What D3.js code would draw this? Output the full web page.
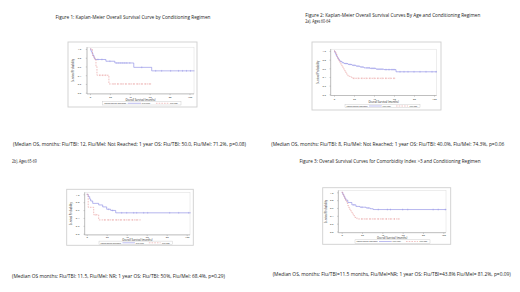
<!DOCTYPE html>
<html><head><meta charset="utf-8">
<script src="https://cdn.jsdelivr.net/npm/d3@7"></script>
<style>
body{margin:0;background:#fff}
svg{display:block}
text{font-family:"Open Sans","Liberation Sans",sans-serif;fill:#222}
</style>
</head><body>
<svg id="chart" width="520" height="292"></svg>
<script>
// ---------- data ----------
const xTicks = [0, 20, 40, 60, 80, 100];
const yTicks = [0, 0.2, 0.4, 0.6, 0.8, 1.0];
const seriesNames = ["Flu/Mel", "Flu/TBI"];
const legendTitle = "Conditioning Regimen";
const xAxisTitle = "Overall Survival (months)";
const yAxisTitle = "Survival Probability";

const titles = [
  ["Figure 1: Kaplan-Meier Overall Survival Curve by Conditioning Regimen"],
  ["Figure 2: Kaplan-Meier Overall Survival Curves By Age and Conditioning Regimen", "2a). Ages 60-64"],
  ["2b). Ages 65-69"],
  ["Figure 3: Overall Survival Curves for Comorbidity Index >3 and Conditioning Regimen"]
];
const captions = [
  "(Median OS, months: Flu/TBI: 12, Flu/Mel: Not Reached; 1 year OS: Flu/TBI: 50.0, Flu/Mel: 71.2%, p=0.08)",
  "(Median OS, months: Flu/TBI: 8, Flu/Mel: Not Reached; 1 year OS: Flu/TBI: 40.0%, Flu/Mel: 74.3%, p=0.06",
  "(Median OS months: Flu/TBI: 11.5, Flu/Mel: NR; 1 year OS: Flu/TBI: 50%, Flu/Mel: 68.4%, p=0.29)",
  "(Median OS, months: Flu/TBI=11.5 months, Flu/Mel=NR; 1 year OS: Flu/TBI=43.8% Flu/Mel= 81.2%, p=0.09)"
];

// Panel 1 (all patients)
const p1MelT = [0, 1, 2, 3, 4, 5, 16, 25, 44, 62];
const p1MelS = [1.0, 0.95, 0.90, 0.85, 0.80, 0.76, 0.72, 0.68, 0.58, 0.50];
const p1MelEnd = 105;
const p1MelCens = [8, 12, 20, 27, 29, 31, 33, 35, 37, 40, 52, 66, 72, 81, 89, 93, 97, 101];
const p1TbiT = [0, 2.5, 4, 6, 7, 19];
const p1TbiS = [1.0, 0.85, 0.78, 0.60, 0.40, 0.20];
const p1TbiEnd = 62;
const p1TbiCens = [10, 13, 16, 24, 28, 32, 36, 40, 44, 48, 52, 56, 60];

// Panel 2 (ages 60-64)
const p2MelT = [0, 1, 2, 3, 4, 5, 6, 8, 10, 14, 18, 22, 26, 30, 36, 42, 50, 62];
const p2MelS = [1.0, 0.95, 0.90, 0.86, 0.82, 0.79, 0.76, 0.73, 0.71, 0.69, 0.67, 0.65, 0.63, 0.61, 0.60, 0.58, 0.57, 0.52];
const p2MelEnd = 103;
const p2MelCens = [12, 16, 20, 24, 28, 33, 35, 38, 40, 44, 46, 48, 52, 55, 58, 60, 66, 70, 74, 80, 86, 92, 98, 102];
const p2TbiT = [0, 1, 2, 3, 4, 5, 6, 7, 8, 9, 10, 11, 12, 13, 14, 16, 18];
const p2TbiS = [1.0, 0.97, 0.92, 0.86, 0.81, 0.76, 0.72, 0.68, 0.64, 0.60, 0.56, 0.52, 0.48, 0.45, 0.42, 0.40, 0.37];
const p2TbiEnd = 62;
const p2TbiCens = [20, 24, 28, 32, 36, 40, 44, 48, 52, 56, 60];

// Panel 3 (ages 65-69)
const p3MelT = [0, 1.5, 3, 4, 6, 12, 16, 20, 24, 29];
const p3MelS = [1.0, 0.94, 0.88, 0.83, 0.77, 0.73, 0.68, 0.62, 0.59, 0.53];
const p3MelEnd = 104;
const p3MelCens = [22, 26, 35, 40, 47, 50, 57, 61, 83, 92, 102];
const p3TbiT = [0, 1.5, 7, 12];
const p3TbiS = [1.0, 0.67, 0.48, 0.35];
const p3TbiEnd = 54;
const p3TbiCens = [9, 18, 22, 26, 30, 34, 38, 42, 46, 50];

// Panel 4 (comorbidity index > 3)
const p4MelT = [0, 1, 2, 3, 4, 6, 10, 14, 18, 24, 28, 31];
const p4MelS = [1.0, 0.95, 0.90, 0.85, 0.80, 0.74, 0.68, 0.64, 0.62, 0.60, 0.58, 0.56];
const p4MelEnd = 103;
const p4MelCens = [12, 20, 26, 36, 45, 48, 60, 65, 90, 95, 102];
const p4TbiT = [0, 1, 2, 3, 4, 5, 6, 7, 8, 9, 10, 11, 12, 13, 15];
const p4TbiS = [1.0, 0.95, 0.90, 0.84, 0.78, 0.72, 0.66, 0.61, 0.56, 0.52, 0.48, 0.44, 0.40, 0.36, 0.32];
const p4TbiEnd = 57;
const p4TbiCens = [20, 24, 28, 32, 36, 40, 44, 48, 52, 56];

// ---------- layout (positions, not data) ----------
const layouts = [
  {box:[68,42,197,107], pL:87, pR:194, x0:90, x100:189.5, y1:49, y0:92.7,
   tickY:97.6, xTitleY:100.4, legY:103.3, legX:[102.7,181], yLabX:81.2, yTitleX:73.5,
   title:{anchor:"middle", x:133, y:[18.5], w:[155]}, cap:{x:13, y:145.5, w:233}},
  {box:[312,42,441,110], pL:330.7, pR:436.7, x0:334, x100:434, y1:51, y0:94.3,
   tickY:99, xTitleY:102, legY:106, legX:[345,420], yLabX:326, yTitleX:318.5,
   title:{anchor:"start", x:305.3, y:[16.5, 22.5], w:[175, 25]}, cap:{x:271.3, y:145.5, w:233}},
  {box:[66.7,189.3,193.3,245.3], pL:84.7, pR:190, x0:86.7, x100:186.7, y1:194.3, y0:233.7,
   tickY:237, xTitleY:239.6, legY:242.8, legX:[99,172.3], yLabX:79.3, yTitleX:71,
   title:{anchor:"start", x:12, y:[162.5], w:[24.7]}, cap:{x:12, y:278, w:213}},
  {box:[322.7,187.7,450.7,244.3], pL:338.3, pR:446, x0:341.7, x100:443.3, y1:192.3, y0:231.5,
   tickY:235.2, xTitleY:238.2, legY:241.5, legX:[355,430], yLabX:333.5, yTitleX:326.5,
   title:{anchor:"middle", x:390, y:[162.5], w:[181]}, cap:{x:272.7, y:276, w:238}}
];

const panelData = [
  {mel:{t:p1MelT, s:p1MelS, end:p1MelEnd, c:p1MelCens}, tbi:{t:p1TbiT, s:p1TbiS, end:p1TbiEnd, c:p1TbiCens}},
  {mel:{t:p2MelT, s:p2MelS, end:p2MelEnd, c:p2MelCens}, tbi:{t:p2TbiT, s:p2TbiS, end:p2TbiEnd, c:p2TbiCens}},
  {mel:{t:p3MelT, s:p3MelS, end:p3MelEnd, c:p3MelCens}, tbi:{t:p3TbiT, s:p3TbiS, end:p3TbiEnd, c:p3TbiCens}},
  {mel:{t:p4MelT, s:p4MelS, end:p4MelEnd, c:p4MelCens}, tbi:{t:p4TbiT, s:p4TbiS, end:p4TbiEnd, c:p4TbiCens}}
];

const MEL_COLOR = "#8585e2";
const TBI_COLOR = "#e69292";

const svg = d3.select("#chart");

function survAt(series, t) {
  const i = d3.bisectRight(series.t, t) - 1;
  return series.s[Math.max(0, i)];
}

layouts.forEach((L, k) => {
  const D = panelData[k];
  const g = svg.append("g");

  L.title.y.forEach((yy, j) => {
    g.append("text").attr("x", L.title.x).attr("y", yy)
      .attr("text-anchor", L.title.anchor).attr("font-size", 4.6)
      .attr("textLength", L.title.w[j]).attr("lengthAdjust", "spacingAndGlyphs")
      .text(titles[k][j]);
  });
  g.append("text").attr("x", L.cap.x).attr("y", L.cap.y).attr("font-size", 4.8)
    .attr("textLength", L.cap.w).attr("lengthAdjust", "spacingAndGlyphs")
    .text(captions[k]);

  g.append("rect").attr("x", L.box[0]).attr("y", L.box[1])
    .attr("width", L.box[2] - L.box[0]).attr("height", L.box[3] - L.box[1])
    .attr("fill", "#fff").attr("stroke", "#cfcfcf").attr("stroke-width", 0.9);

  const x = d3.scaleLinear().domain([0, 100]).range([L.x0, L.x100]);
  const y = d3.scaleLinear().domain([0, 1]).range([L.y0, L.y1]);
  const pT = L.y1 - 1.8, pB = L.y0 + 1.2;

  g.append("rect").attr("x", L.pL).attr("y", pT).attr("width", L.pR - L.pL).attr("height", pB - pT)
    .attr("fill", "none").attr("stroke", "#dcdcdc").attr("stroke-width", 0.5);
  g.append("line").attr("x1", L.pL).attr("x2", L.pL).attr("y1", pT).attr("y2", pB)
    .attr("stroke", "#999").attr("stroke-width", 0.55);
  g.append("line").attr("x1", L.pL).attr("x2", L.pR).attr("y1", pB).attr("y2", pB)
    .attr("stroke", "#999").attr("stroke-width", 0.55);

  const xa = g.append("g").attr("transform", `translate(0,${pB})`)
    .call(d3.axisBottom(x).tickValues(xTicks).tickSize(1.2).tickPadding(0.6));
  xa.select(".domain").remove();
  xa.selectAll("line").attr("stroke", "#999").attr("stroke-width", 0.45);
  xa.selectAll("text").attr("font-size", 2.5).attr("font-family", "Open Sans, sans-serif")
    .attr("y", null).attr("dy", null)
    .attr("transform", `translate(0,${L.tickY - pB})`).attr("dominant-baseline", "middle").attr("fill", "#555");

  const ya = g.append("g").attr("transform", `translate(${L.pL},0)`)
    .call(d3.axisLeft(y).tickValues(yTicks).tickFormat(d3.format(".1f")).tickSize(1.2).tickPadding(0.8));
  ya.select(".domain").remove();
  ya.selectAll("line").attr("stroke", "#999").attr("stroke-width", 0.45);
  ya.selectAll("text").attr("font-size", 2.5).attr("font-family", "Open Sans, sans-serif")
    .attr("x", L.yLabX - L.pL).attr("dy", "0.32em").attr("fill", "#555");

  g.append("text").attr("x", (L.pL + L.pR) / 2).attr("y", L.xTitleY).attr("dy", "0.35em")
    .attr("text-anchor", "middle").attr("font-size", 2.6).attr("fill", "#555").text(xAxisTitle);
  g.append("text").attr("transform", `translate(${L.yTitleX},${(pT + pB) / 2}) rotate(-90)`)
    .attr("dy", "0.35em").attr("text-anchor", "middle").attr("font-size", 2.6).attr("fill", "#555")
    .text(yAxisTitle);

  const line = d3.line().x(d => x(d[0])).y(d => y(d[1])).curve(d3.curveStepAfter);
  [["mel", MEL_COLOR, null], ["tbi", TBI_COLOR, "1.6,1.1"]].forEach(([key, col, dash]) => {
    const s = D[key];
    const pts = s.t.map((t, i) => [t, s.s[i]]);
    pts.push([s.end, s.s[s.s.length - 1]]);
    g.append("path").datum(pts).attr("d", line).attr("fill", "none")
      .attr("stroke", col).attr("stroke-width", 0.6)
      .attr("stroke-dasharray", dash);
    g.selectAll(null).data(s.c).enter().append("line")
      .attr("x1", d => x(d)).attr("x2", d => x(d))
      .attr("y1", d => y(survAt(s, d)) - 0.9).attr("y2", d => y(survAt(s, d)) + 0.9)
      .attr("stroke", col).attr("stroke-width", 0.4);
  });

  const lx0 = L.legX[0], lx1 = L.legX[1], W = lx1 - lx0, ly = L.legY;
  g.append("rect").attr("x", lx0).attr("y", ly - 1.7).attr("width", W).attr("height", 3.4)
    .attr("fill", "#fff").attr("stroke", "#c4c4c4").attr("stroke-width", 0.4);
  g.append("text").attr("x", lx0 + W * 0.02).attr("y", ly).attr("dy", "0.35em")
    .attr("font-size", 2.4).attr("fill", "#555")
    .attr("textLength", W * 0.28).attr("lengthAdjust", "spacingAndGlyphs").text(legendTitle);
  g.append("line").attr("x1", lx0 + W * 0.32).attr("x2", lx0 + W * 0.49).attr("y1", ly).attr("y2", ly)
    .attr("stroke", MEL_COLOR).attr("stroke-width", 0.55);
  g.append("text").attr("x", lx0 + W * 0.50).attr("y", ly).attr("dy", "0.35em")
    .attr("font-size", 2.4).attr("fill", "#555").text(seriesNames[0]);
  g.append("line").attr("x1", lx0 + W * 0.68).attr("x2", lx0 + W * 0.84).attr("y1", ly).attr("y2", ly)
    .attr("stroke", TBI_COLOR).attr("stroke-width", 0.55).attr("stroke-dasharray", "1.6,1.1");
  g.append("text").attr("x", lx0 + W * 0.86).attr("y", ly).attr("dy", "0.35em")
    .attr("font-size", 2.4).attr("fill", "#555").text(seriesNames[1]);
});
</script>
</body></html>
